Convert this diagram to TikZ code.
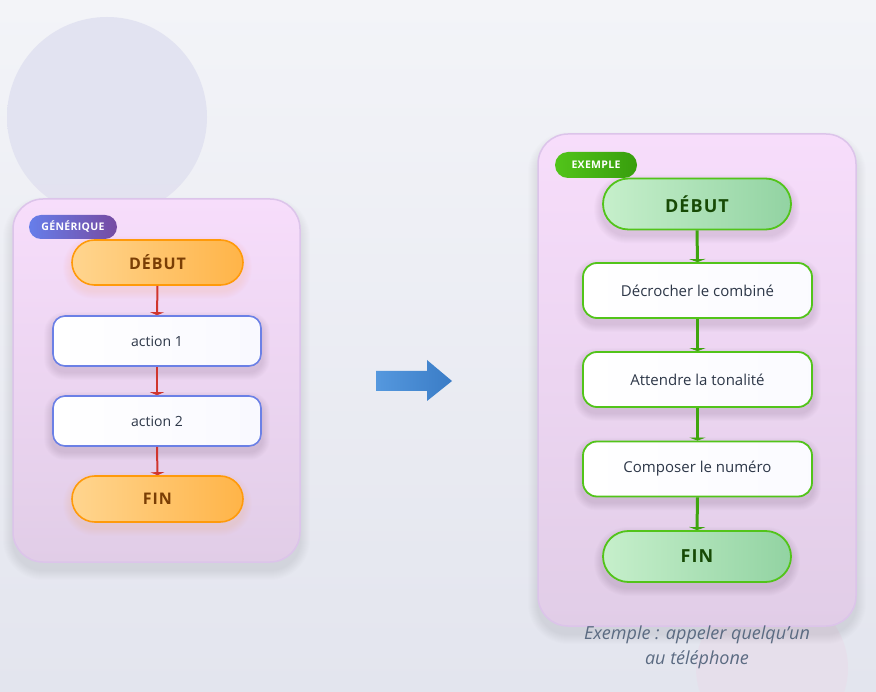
\documentclass[tikz,border=0pt]{standalone}
\usepackage{fontspec}
\setmainfont{Open Sans}
\newfontfamily\spacedfont[LetterSpace=6]{Open Sans}
\newfontfamily\badgefont[LetterSpace=3]{Open Sans}
\usetikzlibrary{arrows.meta,calc}
\pgfdeclarelayer{bg}
\pgfdeclarelayer{shad}
\pgfsetlayers{bg,shad,main}
\definecolor{bgtop}{HTML}{F3F4F8}
\definecolor{bgbot}{HTML}{E3E5EE}
\definecolor{circA}{HTML}{E2E3F1}
\definecolor{circB}{HTML}{E8DDEA}
\definecolor{panTop}{HTML}{F7DDFB}
\definecolor{panBot}{HTML}{E1CDE7}
\definecolor{panBorder}{HTML}{DCC4EA}
\definecolor{orLight}{HTML}{FFD58F}
\definecolor{orDark}{HTML}{FFB448}
\definecolor{orBorder}{HTML}{FF9A0A}
\definecolor{orText}{HTML}{7A3E05}
\definecolor{bluBorder}{HTML}{6B80E6}
\definecolor{txt}{HTML}{2D3748}
\definecolor{redArrow}{HTML}{D0362E}
\definecolor{grLight}{HTML}{C6EFCB}
\definecolor{grDark}{HTML}{92D3A2}
\definecolor{grBorder}{HTML}{52C41A}
\definecolor{grText}{HTML}{174A05}
\definecolor{grArrow}{HTML}{3FA50E}
\definecolor{badgeBlueA}{HTML}{667EEA}
\definecolor{badgeBlueB}{HTML}{764BA2}
\definecolor{badgeGrA}{HTML}{52C41A}
\definecolor{badgeGrB}{HTML}{389E0D}
\definecolor{bigArrA}{HTML}{5598DE}
\definecolor{bigArrB}{HTML}{3A7CC6}
\definecolor{capText}{HTML}{5B6B82}
\tikzset{
  x=1pt, y=-1pt,
  panel/.style={draw=panBorder, line width=1.5pt, rounded corners=30pt, shading angle=45, top color=panTop, bottom color=panBot},
  termO/.style={rectangle, rounded corners=22.5pt, minimum width=171pt, minimum height=45pt, draw=orBorder, line width=1.6pt, left color=orLight, right color=orDark, font=\spacedfont\bfseries\fontsize{16}{18}\selectfont, text=orText},
  actB/.style={rectangle, rounded corners=12pt, minimum width=208pt, minimum height=50pt, draw=bluBorder, line width=1.6pt, left color=white, right color=white!92!blue!30!white, font=\fontsize{14}{16}\selectfont, text=txt},
  termG/.style={rectangle, rounded corners=25.5pt, minimum width=188pt, minimum height=51pt, draw=grBorder, line width=1.8pt, left color=grLight, right color=grDark, font=\spacedfont\bfseries\fontsize{18}{20}\selectfont, text=grText},
  actG/.style={rectangle, rounded corners=14pt, minimum width=229pt, minimum height=55pt, draw=grBorder, line width=1.8pt, left color=white, right color=white!94!blue!30!white, font=\fontsize{15}{17}\selectfont, text=txt},
  redconn/.style={draw=redArrow, line width=2pt, -{Triangle[width=14pt,length=3pt]}},
  grconn/.style={draw=grArrow, line width=3pt, -{Triangle[width=16pt,length=3pt]}},
  badge/.style={rectangle, rounded corners=12pt, text=white, font=\badgefont\bfseries\fontsize{10.5}{12}\selectfont, inner sep=0pt},
}
\begin{document}
\begin{tikzpicture}
\useasboundingbox (0,0) rectangle (876,692);
\begin{pgfonlayer}{bg}
% background
\shade[top color=bgtop, bottom color=bgbot] (0,0) rectangle (876,692);
\shade[top color=circA, bottom color=circA!90!circB] (107,117) circle (100);
\begin{scope}
\clip (0,0) rectangle (876,692);
\fill[circB, opacity=0.7] (772,668) circle (76);
\end{scope}
% panel soft shadows
\foreach \i in {1,...,10} {
  \fill[black, opacity=0.006, rounded corners=30pt+\i pt] (13-\i,199-\i+8) rectangle (300+\i,562+\i+8);
  \fill[black, opacity=0.006, rounded corners=30pt+\i pt] (538-\i,134-\i+8) rectangle (856+\i,626+\i+8);
}
% panels
\path[panel] (13,199) rectangle (300,562);
\path[panel] (538,134) rectangle (856,626);
\end{pgfonlayer}
% badges
\shade[rounded corners=12pt, left color=badgeBlueA, right color=badgeBlueB] (29,215) rectangle (117,239);
\node[badge] (badgeL) at (73,227) {GÉNÉRIQUE};
\shade[rounded corners=13pt, left color=badgeGrA, right color=badgeGrB] (555,152) rectangle (637,178);
\node[badge] (badgeR) at (596,165) {EXEMPLE};
% left flow
\node[termO] (l1) at (157.5,262.5) {DÉBUT};
\node[actB] (l2) at (157,341) {action 1};
\node[actB] (l3) at (157,421) {action 2};
\node[termO, minimum height=46pt, rounded corners=23pt] (l4) at (157.5,499) {FIN};
\draw[redconn] (l1.south) -- (l2.north);
\draw[redconn] (l2.south) -- (l3.north);
\draw[redconn] (l3.south) -- (l4.north);
% big arrow
\shade[left color=bigArrA, right color=bigArrB] (376,371) -- (427,371) -- (427,360) -- (452,381) -- (427,401) -- (427,391) -- (376,391) -- cycle;
% right flow
\node[termG] (r1) at (697,204) {DÉBUT};
\node[actG] (r2) at (697.5,290.5) {Décrocher le combiné};
\node[actG] (r3) at (697.5,379.5) {Attendre la tonalité};
\node[actG] (r4) at (697.5,469) {Composer le numéro};
\node[termG] (r5) at (697,556.5) {FIN};
\draw[grconn] (r1.south) -- (r2.north);
\draw[grconn] (r2.south) -- (r3.north);
\draw[grconn] (r3.south) -- (r4.north);
\draw[grconn] (r4.south) -- (r5.north);
% node soft shadows
\begin{pgfonlayer}{shad}
\foreach \n/\r/\c in {l1/22/orange, l2/12/black, l3/12/black, l4/23/orange, r1/25/black, r2/14/black, r3/14/black, r4/14/black, r5/25/black} {
  \foreach \i in {1,...,8} {
    \fill[\c, opacity=0.012, rounded corners=\r pt+\i pt] ($(\n.south west)+(-\i,\i+5)$) rectangle ($(\n.north east)+(\i,-\i+5)$);
  }
}
\end{pgfonlayer}
% caption
\node[align=center, text=capText, font=\itshape\fontsize{18}{25}\selectfont] (cap) at (697,647) {Exemple : appeler quelqu\symbol{39}un\\au téléphone};
\end{tikzpicture}
\end{document}
